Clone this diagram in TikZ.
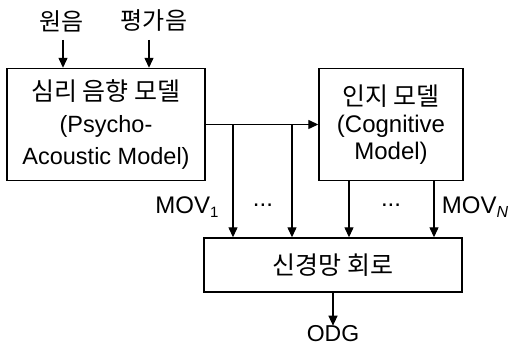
\documentclass[tikz,border=0pt]{standalone}
\usepackage{fontspec}
\setmainfont{Liberation Sans}
\newfontfamily\kr{Noto Sans CJK KR}
\usetikzlibrary{arrows.meta}
\tikzset{
  blk/.style={draw, line width=1.4pt, inner sep=0pt, align=center},
  arr/.style={line width=1.3pt, -{Triangle[length=10pt,width=9pt]}},
  lbl/.style={inner sep=0pt, font=\fontsize{24}{26}\selectfont},
  klbl/.style={inner sep=0pt, font=\kr\fontsize{24}{26}\selectfont},
  txta/.style={font=\fontsize{23.5}{32}\selectfont},
  txtb/.style={font=\fontsize{24}{27}\selectfont}
}
\begin{document}
\begin{tikzpicture}[x=1pt,y=-1pt]
\useasboundingbox (0,0) rectangle (512,347);
\node[blk, txta, minimum width=198pt, minimum height=112pt] (b1) at (106,124.5)
  {\rule{0pt}{6pt}{\kr\fontsize{25}{32}\selectfont 심리 음향 모델}\\(Psycho-\\Acoustic Model)};
\node[blk, txtb, minimum width=144pt, minimum height=112pt] (b2) at (391,124.5)
  {{\kr\fontsize{25}{27}\selectfont 인지 모델}\\(Cognitive\\Model)};
\node[blk, minimum width=258pt, minimum height=54pt, font=\kr\fontsize{25}{28}\selectfont] (b3) at (333,265)
  {신경망 회로};
\node[klbl] (w1) at (62,21) {원음};
\node[klbl] (w2) at (154,21) {평가음};
\node[lbl, font=\fontsize{23}{26}\selectfont] (odg) at (333,334) {ODG};
\node[lbl] (m1) at (187,207) {MOV\raisebox{-0.35ex}{\fontsize{15}{16}\selectfont 1}};
\node[lbl] (mn) at (475,207) {MOV\raisebox{-0.35ex}{\fontsize{16}{16}\selectfont\itshape N}};
\node[lbl] (d1) at (263,205) {...};
\node[lbl] (d2) at (391,205) {...};
\coordinate (t1) at (63,40);
\coordinate (t2) at (149,40);
\coordinate (j1) at (233,124.5);
\coordinate (j2) at (292,124.5);
\coordinate (c1) at (349,180.5);
\coordinate (c2) at (434,180.5);
\draw[arr] (t1) -- (t1 |- b1.north);
\draw[arr] (t2) -- (t2 |- b1.north);
\draw[arr] (b1.east) -- (b2.west);
\draw[arr] (j1) -- (j1 |- b3.north);
\draw[arr] (j2) -- (j2 |- b3.north);
\draw[arr] (c1) -- (c1 |- b3.north);
\draw[arr] (c2) -- (c2 |- b3.north);
\draw[arr] (b3.south) -- (odg.north);
\end{tikzpicture}
\end{document}
